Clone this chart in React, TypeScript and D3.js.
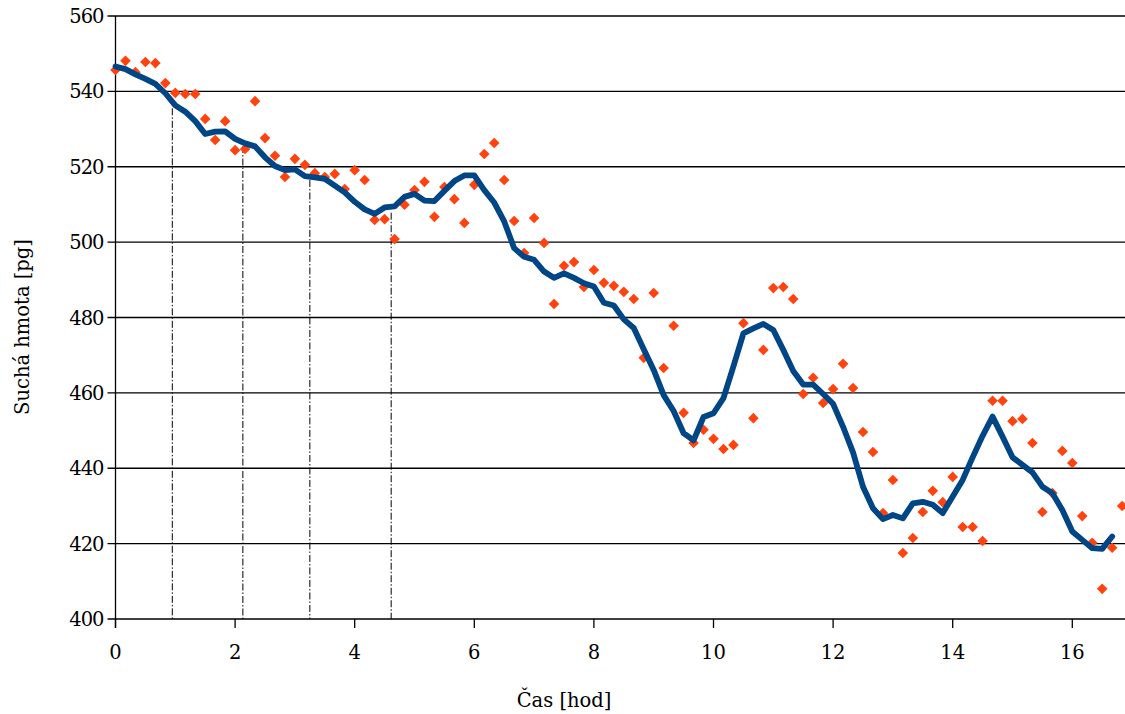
import React from "react";
import * as d3 from "d3";

// Measured dry mass (diamonds), one value every 10 minutes
const measured: number[] = [
  545.7, 548.1, 545.1, 547.8, 547.5, 542.2, 539.6, 539.3, 539.3, 532.7,
  527.1, 532.1, 524.4, 524.7, 537.4, 527.6, 522.9, 517.3, 522.1, 520.5,
  518.3, 517.3, 518.1, 514.1, 519.1, 516.5, 505.9, 506.1, 500.8, 509.9,
  513.8, 516.0, 506.7, 514.6, 511.4, 505.1, 515.2, 523.4, 526.3, 516.5,
  505.6, 497.1, 506.4, 499.8, 483.6, 493.7, 494.7, 488.1, 492.6, 489.2,
  488.4, 486.8, 484.9, 469.3, 486.5, 466.6, 477.8, 454.7, 446.7, 450.2,
  447.8, 445.1, 446.2, 478.5, 453.3, 471.4, 487.8, 488.1, 484.9, 459.7,
  464.0, 457.3, 461.0, 467.7, 461.3, 449.6, 444.3, 428.1, 436.9, 417.5,
  421.5, 428.4, 434.0, 431.0, 437.7, 424.4, 424.4, 420.7, 457.9, 457.9,
  452.5, 453.1, 446.7, 428.4, 433.4, 444.6, 441.4, 427.3, 420.2, 408.0,
  418.9, 430.0,
];

// Smoothed curve (blue line)
const smoothed: number[] = [
  546.6, 545.9, 544.5, 543.3, 542.0, 539.5, 536.3, 534.6, 532.1, 528.7,
  529.3, 529.4, 527.4, 526.2, 525.4, 522.5, 520.2, 519.1, 519.3, 517.5,
  517.2, 516.8, 515.0, 513.2, 510.7, 508.7, 507.5, 509.2, 509.5, 512.0,
  512.8, 511.0, 510.9, 513.6, 516.2, 517.7, 517.7, 513.8, 510.5, 505.5,
  498.4, 496.1, 495.3, 492.2, 490.5, 491.7, 490.5, 489.1, 488.2, 483.9,
  483.2, 479.5, 477.2, 471.6, 466.1, 459.4, 455.2, 449.3, 447.4, 453.6,
  454.6, 458.6, 467.0, 475.8, 477.1, 478.3, 476.7, 471.4, 465.8, 462.2,
  462.2, 459.7, 457.1, 451.0, 444.2, 435.1, 429.4, 426.5, 427.6, 426.7,
  430.7, 431.1, 430.3, 428.1, 432.5, 436.9, 442.9, 448.6, 453.7, 448.4,
  442.9, 440.9, 438.9, 435.1, 433.4, 428.9, 423.2, 421.0, 418.8, 418.6,
  421.9,
];

// Division events: drop lines from the curve to the axis
const eventTimes: number[] = [0.95, 2.13, 3.25, 4.61];
const eventMass: number[] = [535.5, 525.5, 516.5, 507.8];

const xTicks: number[] = [0, 2, 4, 6, 8, 10, 12, 14, 16];
const yTicks: number[] = [400, 420, 440, 460, 480, 500, 520, 540, 560];

const STEP = 1 / 6; // hours between samples

const W = 1125;
const H = 714;
const FONT = "'DejaVu Serif', serif";
const FS = 19.5;

export default function App() {
  const x = d3.scaleLinear().domain([0, 17]).range([115.5, 115.5 + 17 * 59.8]);
  const y = d3.scaleLinear().domain([400, 560]).range([619, 16]);

  const line = d3
    .line<number>()
    .x((_, i) => x(i * STEP))
    .y((d) => y(d));

  const diamond = (cx: number, cy: number, r: number) =>
    `M${cx},${cy - r}L${cx + r},${cy}L${cx},${cy + r}L${cx - r},${cy}Z`;

  const x0 = x(0);
  return (
    <div style={{ position: "absolute", left: 0, top: 0, width: W, height: H }}>
      <svg width={W} height={H} style={{ display: "block", background: "#fff" }}>
        {/* horizontal gridlines */}
        {yTicks.map((t) => (
          <g key={"gy" + t}>
            <line x1={x0 - 8} x2={W} y1={y(t)} y2={y(t)} stroke="#000" strokeWidth={1.3} />
            <text
              x={x0 - 12}
              y={y(t)}
              dy="0.36em"
              textAnchor="end"
              fontFamily={FONT}
              fontSize={FS}
              fill="#000"
              letterSpacing={-1}
            >
              {t}
            </text>
          </g>
        ))}
        {/* y axis */}
        <line x1={x0} x2={x0} y1={y(560)} y2={y(400) + 9} stroke="#000" strokeWidth={1.3} />
        {/* x ticks */}
        {xTicks.map((t) => (
          <g key={"gx" + t}>
            <line x1={x(t)} x2={x(t)} y1={y(400)} y2={y(400) + 9} stroke="#000" strokeWidth={1.3} />
            <text
              x={x(t)}
              y={y(400) + 40}
              textAnchor="middle"
              fontFamily={FONT}
              fontSize={FS}
              fill="#000"
            >
              {t}
            </text>
          </g>
        ))}
        {/* drop lines */}
        {eventTimes.map((t, i) => (
          <line
            key={"ev" + i}
            x1={x(t)}
            x2={x(t)}
            y1={y(eventMass[i])}
            y2={y(400)}
            stroke="#000"
            strokeWidth={1}
            strokeDasharray="7,2,1.5,2"
          />
        ))}
        {/* measured points */}
        {measured.map((v, i) => (
          <path key={"m" + i} d={diamond(x(i * STEP), y(v), 5.3)} fill="#FF420E" />
        ))}
        {/* smoothed line */}
        <path
          d={line(smoothed) || ""}
          fill="none"
          stroke="#004586"
          strokeWidth={5.8}
          strokeLinejoin="round"
          strokeLinecap="round"
        />
        {/* axis titles */}
        <text
          x={564}
          y={707}
          textAnchor="middle"
          fontFamily={FONT}
          fontSize={FS}
          fill="#000"
        >
          Čas [hod]
        </text>
        <text
          transform={`translate(29,${327}) rotate(-90)`}
          textAnchor="middle"
          fontFamily={FONT}
          fontSize={FS}
          fill="#000"
        >
          Suchá hmota [pg]
        </text>
      </svg>
    </div>
  );
}
